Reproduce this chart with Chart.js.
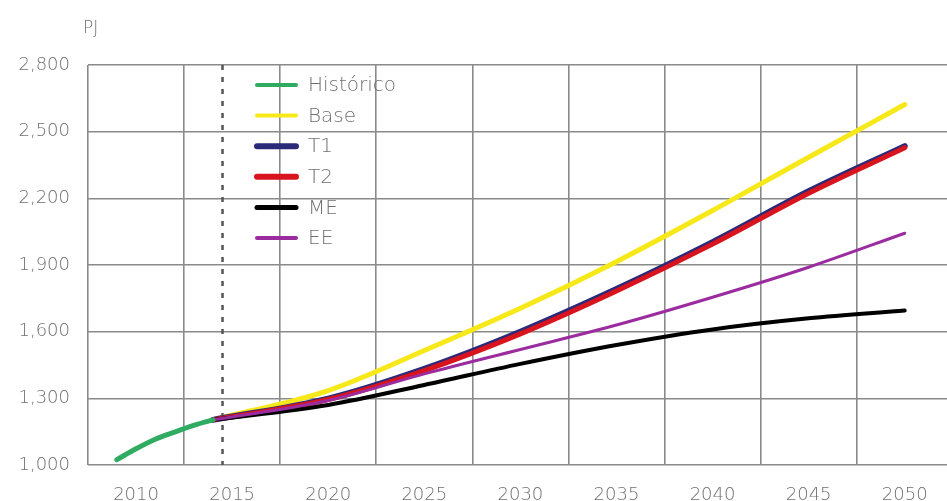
<!DOCTYPE html>
<html>
<head>
<meta charset="utf-8">
<title>PJ</title>
<script src="https://cdn.jsdelivr.net/npm/chart.js@4.4.1/dist/chart.umd.min.js"></script>
<style>
body { margin: 0; background: #fff; }
canvas { display: block; }
</style>
</head>
<body>
<canvas id="energyChart" width="947" height="501"></canvas>
<script>
// values (PJ)
const HIST_YEARS  = [2009, 2010, 2011, 2012, 2013, 2014];
const HIST_VALUES = [1024, 1073, 1116, 1148, 1178, 1203];

const PROJ_YEARS = [2014, 2020, 2025, 2030, 2035, 2040, 2045, 2050];
const BASE = [1203, 1335, 1515, 1705, 1915, 2145, 2385, 2622];
const T1   = [1203, 1299, 1433, 1600, 1792, 2003, 2232, 2435];
const T2   = [1203, 1295, 1425, 1590, 1783, 1994, 2223, 2428];
const ME   = [1203, 1270, 1360, 1455, 1540, 1610, 1660, 1695];
const EE   = [1203, 1290, 1410, 1520, 1630, 1755, 1890, 2043];

const TICK_YEARS = [2010, 2015, 2020, 2025, 2030, 2035, 2040, 2045, 2050];
const GRID_YEARS = [2007.5, 2012.5, 2017.5, 2022.5, 2027.5, 2032.5, 2037.5, 2042.5, 2047.5];
const SPLIT_YEAR = 2014.5;

const X_MIN = 2007.5, X_MAX = 2052.2;
const TEXT = "#707070";
const GRID = "#8a8a8a";
const FONT = "'DejaVu Sans', sans-serif";

function pts(xs, ys) {
  return xs.map(function (x, i) { return { x: x, y: ys[i] }; });
}

Chart.defaults.font.family = FONT;
Chart.defaults.font.size = 18;
Chart.defaults.font.weight = "300";
Chart.defaults.color = TEXT;

/* dashed split line, "PJ" unit and legend list */
const overlay = {
  id: "overlay",
  beforeDatasetsDraw(chart) {
    const ctx = chart.ctx, a = chart.chartArea;
    const x = chart.scales.x.getPixelForValue(SPLIT_YEAR);
    ctx.save();
    ctx.strokeStyle = "#555";
    ctx.lineWidth = 2.5;
    ctx.setLineDash([5, 7]);
    ctx.beginPath();
    ctx.moveTo(x, a.top);
    ctx.lineTo(x, a.bottom);
    ctx.stroke();
    ctx.restore();
  },
  afterDraw(chart) {
    const ctx = chart.ctx;
    ctx.save();
    ctx.fillStyle = TEXT;
    ctx.font = "300 17px " + FONT;
    ctx.textBaseline = "middle";
    ctx.textAlign = "left";
    ctx.fillText("PJ", 83, 29);

    ctx.font = "300 20px " + FONT;
    chart.data.datasets.forEach(function (ds, i) {
      const y = 85 + i * 30.6;
      ctx.strokeStyle = ds.borderColor;
      ctx.lineWidth = ds.legendWidth;
      ctx.lineCap = "round";
      ctx.beginPath();
      ctx.moveTo(257, y);
      ctx.lineTo(296, y);
      ctx.stroke();
      ctx.fillStyle = TEXT;
      ctx.fillText(ds.label, 308, y + 1);
    });
    ctx.restore();
  }
};

const ctx = document.getElementById("energyChart").getContext("2d");

new Chart(ctx, {
  type: "line",
  data: {
    datasets: [
      { label: "Histórico", data: pts(HIST_YEARS, HIST_VALUES), borderColor: "#2fab62", borderWidth: 5, legendWidth: 4, order: 0 },
      { label: "Base", data: pts(PROJ_YEARS, BASE), borderColor: "#f7e81a", borderWidth: 5, legendWidth: 4, order: 5 },
      { label: "T1", data: pts(PROJ_YEARS, T1), borderColor: "#2b2a78", borderWidth: 6, legendWidth: 6, order: 4 },
      { label: "T2", data: pts(PROJ_YEARS, T2), borderColor: "#d8141f", borderWidth: 5, legendWidth: 6, order: 3 },
      { label: "ME", data: pts(PROJ_YEARS, ME), borderColor: "#000000", borderWidth: 4, legendWidth: 5, order: 2 },
      { label: "EE", data: pts(PROJ_YEARS, EE), borderColor: "#9b2c9f", borderWidth: 3, legendWidth: 4, order: 1 }
    ]
  },
  options: {
    responsive: false,
    animation: false,
    devicePixelRatio: 1,
    layout: { padding: { top: 65, left: 0, right: 0, bottom: 0 } },
    elements: {
      point: { radius: 0 },
      line: { cubicInterpolationMode: "monotone", borderCapStyle: "round", fill: false }
    },
    plugins: {
      legend: { display: false },
      tooltip: { enabled: false }
    },
    scales: {
      x: {
        type: "linear",
        position: "bottom",
        min: X_MIN,
        max: X_MAX,
        grid: { display: false },
        border: { display: false },
        afterBuildTicks: function (s) { s.ticks = TICK_YEARS.map(function (v) { return { value: v }; }); },
        afterFit: function (s) { s.height = 36; },
        ticks: {
          autoSkip: false,
          maxRotation: 0,
          padding: 12,
          color: TEXT,
          callback: function (v) { return String(v); }
        }
      },
      x2: {
        type: "linear",
        position: "top",
        min: X_MIN,
        max: X_MAX,
        afterBuildTicks: function (s) { s.ticks = GRID_YEARS.map(function (v) { return { value: v }; }); },
        afterFit: function (s) { s.height = 0; },
        ticks: { display: false },
        grid: { color: GRID, lineWidth: 1.6, drawTicks: false },
        border: { display: false }
      },
      y: {
        min: 1000,
        max: 2800,
        afterFit: function (s) { s.width = 88; },
        ticks: { stepSize: 300, padding: 18, color: TEXT },
        grid: { color: GRID, lineWidth: 1.6, drawTicks: false },
        border: { display: false }
      }
    }
  },
  plugins: [overlay]
});
</script>
</body>
</html>
